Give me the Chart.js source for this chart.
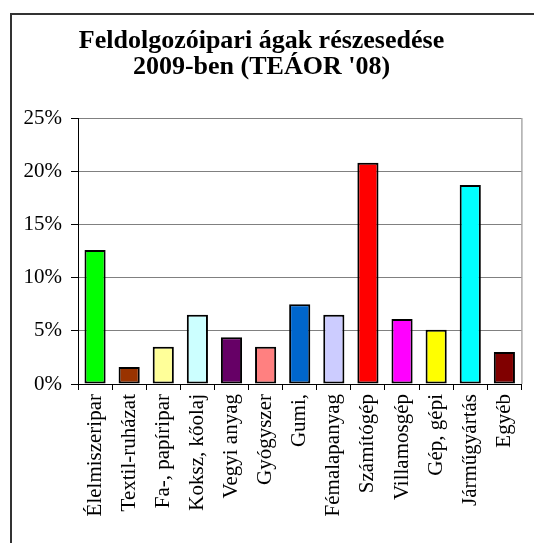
<!DOCTYPE html>
<html>
<head>
<meta charset="utf-8">
<script src="https://cdn.jsdelivr.net/npm/chart.js@4/dist/chart.umd.min.js"></script>
<style>
  html, body { margin: 0; padding: 0; background: #fff; overflow: hidden; }
  #frame {
    position: absolute; left: 10px; top: 13px; width: 600px; height: 600px;
    border: 2px solid #333;
  }
  #sharesChart { position: absolute; left: 0; top: 0; }
</style>
</head>
<body>
<div id="frame"></div>
<canvas id="sharesChart" width="534" height="543"></canvas>
<script>
// Ágazatok és részesedésük (%)
const categories = [
  "Élelmiszeripar", "Textil-ruházat", "Fa-, papíripar", "Koksz, kőolaj",
  "Vegyi anyag", "Gyógyszer", "Gumi,", "Fémalapanyag", "Számítógép",
  "Villamosgép", "Gép, gépi", "Járműgyártás", "Egyéb"
];
const shares = [12.6, 1.6, 3.5, 6.5, 4.4, 3.5, 7.5, 6.5, 20.8, 6.1, 5.1, 18.7, 3.0];
const barColors = [
  "#00ff00", "#993300", "#ffff99", "#ccffff", "#660066", "#ff8080", "#0066cc",
  "#ccccff", "#ff0000", "#ff00ff", "#ffff00", "#00ffff", "#800000"
];
const yTicks = [0, 5, 10, 15, 20, 25];

const serif = "'Liberation Serif', 'Times New Roman', serif";

// plot area right edge (gray frame line)
const plotFrame = {
  id: "plotFrame",
  afterDraw: function (chart) {
    const area = chart.chartArea;
    const ctx = chart.ctx;
    ctx.save();
    ctx.strokeStyle = "#808080";
    ctx.lineWidth = 1;
    ctx.beginPath();
    ctx.moveTo(area.right + 0.5, area.top);
    ctx.lineTo(area.right + 0.5, area.bottom);
    ctx.stroke();
    ctx.restore();
  },
};

new Chart(document.getElementById("sharesChart"), {
  type: "bar",
  data: {
    labels: categories,
    datasets: [{
      data: shares,
      backgroundColor: barColors,
      borderColor: "#000",
      borderWidth: 2,
      borderSkipped: false,
      barPercentage: 0.62,
      categoryPercentage: 1,
    }],
  },
  options: {
    responsive: false,
    animation: false,
    layout: { padding: { left: 0, right: 11, top: 0, bottom: 0 } },
    plugins: {
      legend: { display: false },
      tooltip: { enabled: false },
      title: {
        display: true,
        text: ["Feldolgozóipari ágak részesedése", "2009-ben (TEÁOR '08)"],
        color: "#000",
        font: { family: serif, size: 26, weight: "bold", lineHeight: 1.0 },
        padding: { top: 28, bottom: 38 },
      },
    },
    scales: {
      x: {
        grid: { offset: true, drawOnChartArea: false, tickColor: "#000", tickLength: 6 },
        border: { color: "#000", width: 1 },
        ticks: {
          autoSkip: false, minRotation: 90, maxRotation: 90, padding: 4,
          color: "#000", font: { family: serif, size: 21 },
        },
        afterFit: function (scale) { scale.height = 159; },
      },
      y: {
        min: 0,
        max: 25,
        afterBuildTicks: function (scale) {
          scale.ticks = yTicks.map(function (v) { return { value: v }; });
        },
        grid: { color: "#808080", tickColor: "#000", tickLength: 7 },
        border: { color: "#000", width: 1 },
        ticks: {
          padding: 9, color: "#000", font: { family: serif, size: 21 },
          callback: function (v) { return v + "%"; },
        },
        afterFit: function (scale) { scale.width = 78; },
      },
    },
  },
  plugins: [plotFrame],
});
</script>
</body>
</html>
